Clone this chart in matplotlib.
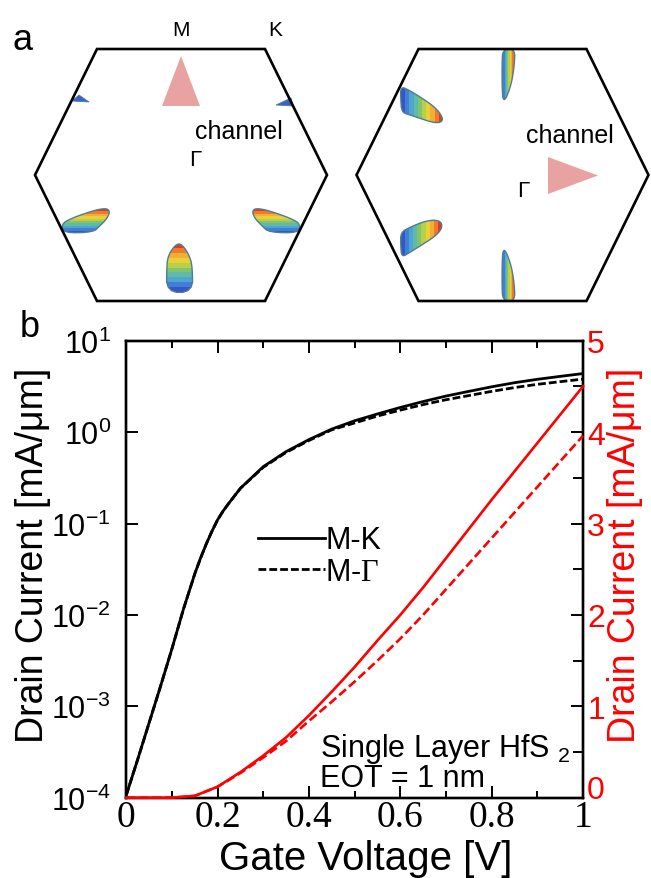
import numpy as np
import matplotlib
matplotlib.use("Agg")
import matplotlib.pyplot as plt
from matplotlib.colors import ListedColormap
from matplotlib.patches import Polygon
from matplotlib.ticker import FixedLocator, MultipleLocator, NullLocator, FixedFormatter

plt.rcParams["font.family"] = ["Liberation Sans", "DejaVu Sans"]
plt.rcParams["mathtext.fontset"] = "custom"
plt.rcParams["mathtext.rm"] = "Liberation Sans"
plt.rcParams["mathtext.it"] = "Liberation Sans:italic"
plt.rcParams["mathtext.bf"] = "Liberation Sans:bold"
plt.rcParams["mathtext.sf"] = "Liberation Serif"

# ---------------- transfer characteristics (panel b) ----------------
# log-scale drain current [mA/um] vs gate voltage [V]
vg_log = [0.0, 0.025, 0.05, 0.075, 0.10, 0.125, 0.15, 0.1625, 0.175, 0.1875,
          0.20, 0.2125, 0.225, 0.25, 0.30, 0.35, 0.40, 0.45, 0.50, 0.55, 0.60,
          0.65, 0.70, 0.75, 0.80, 0.85, 0.90, 0.95, 1.00]
id_mk_log = [1.07e-4, 2.63e-4, 6.61e-4, 1.66e-3, 4.27e-3, 1.15e-2, 2.82e-2,
             4.17e-2, 5.96e-2, 8.22e-2, 0.110, 0.138, 0.168, 0.243, 0.419,
             0.612, 0.828, 1.08, 1.33, 1.58, 1.86, 2.16, 2.48, 2.79, 3.13,
             3.47, 3.78, 4.07, 4.37]
id_mg_log = [1.07e-4, 2.63e-4, 6.61e-4, 1.66e-3, 4.27e-3, 1.15e-2, 2.82e-2,
             4.17e-2, 5.96e-2, 8.22e-2, 0.110, 0.138, 0.168, 0.243, 0.412,
             0.600, 0.810, 1.06, 1.26, 1.50, 1.74, 2.00, 2.26, 2.51, 2.79,
             3.07, 3.33, 3.56, 3.80]

# linear-scale drain current [mA/um] vs gate voltage [V]
vg_lin = [0.0, 0.05, 0.10, 0.15, 0.20, 0.25, 0.30, 0.35, 0.40, 0.45, 0.50,
          0.55, 0.60, 0.65, 0.70, 0.75, 0.80, 0.85, 0.90, 0.95, 1.00]
id_mk_lin = [0.0, 0.0, 0.0, 0.02, 0.12, 0.28, 0.46, 0.66, 0.90, 1.16, 1.43,
             1.72, 2.00, 2.30, 2.62, 2.94, 3.26, 3.57, 3.88, 4.19, 4.50]
id_mg_lin = [0.0, 0.0, 0.0, 0.02, 0.12, 0.27, 0.44, 0.62, 0.84, 1.05, 1.27,
             1.50, 1.74, 2.00, 2.28, 2.56, 2.84, 3.12, 3.40, 3.68, 3.96]

series_labels = ["M-K", r"M-$\mathsf{\Gamma}$"]
x_ticks = [0.0, 0.2, 0.4, 0.6, 0.8, 1.0]
x_tick_labels = ["0", "0.2", "0.4", "0.6", "0.8", "1"]
log_ticks = [1e-4, 1e-3, 1e-2, 1e-1, 1e0, 1e1]
log_tick_labels = [r"$10^{-4}$", r"$10^{-3}$", r"$10^{-2}$",
                   r"$10^{-1}$", r"$10^{0}$", r"$10^{1}$"]
lin_ticks = [0, 1, 2, 3, 4, 5]
lin_tick_labels = ["0", "1", "2", "3", "4", "5"]

RED = "#ff0000"
PINK = "#e9a2a2"
BANDS = ["#3456c8", "#3f7fd6", "#4fa4d0", "#5fbaa8", "#80c470",
         "#b8cf48", "#e8d03a", "#f4ae32", "#ef7a2a", "#e23a22"]
band_cmap = ListedColormap(BANDS)

W, H = 651, 879
fig = plt.figure(figsize=(W / 100, H / 100), dpi=100)

# ---------------- panel a: Brillouin-zone sketch (pixel units) ----------------
sk = fig.add_axes([0, 0, 1, 1])
sk.set_xlim(0, W)
sk.set_ylim(H, 0)
sk.axis("off")


def hexagon(cx, cy, hw=146, hh=126, top=84):
    return [(cx - top, cy - hh), (cx + top, cy - hh), (cx + hw, cy),
            (cx + top, cy + hh), (cx - top, cy + hh), (cx - hw, cy)]


def smooth(pts, n=2):
    p = np.asarray(pts, float)
    for _ in range(n):
        q = np.roll(p, -1, axis=0)
        a = 0.75 * p + 0.25 * q
        b = 0.25 * p + 0.75 * q
        p = np.empty((2 * len(a), 2))
        p[0::2] = a
        p[1::2] = b
    return p


def valley(cx, cy, rel, along="y", mirror_x=False, mirror_y=False):
    """Filled valley pocket with banded colouring, given offsets from the zone centre."""
    r = np.asarray(rel, float)
    if mirror_x:
        r[:, 0] = -r[:, 0]
    if mirror_y:
        r[:, 1] = -r[:, 1]
    pts = smooth(r + [cx, cy])
    x0, x1 = pts[:, 0].min(), pts[:, 0].max()
    y0, y1 = pts[:, 1].min(), pts[:, 1].max()
    poly = Polygon(pts, closed=True, facecolor="none", edgecolor="#4d7d95",
                   lw=1.0, zorder=4)
    sk.add_patch(poly)
    n = len(BANDS)
    if along == "y":
        arr = np.linspace(0, 1, n)[:, None]
        ext = (x0, x1, y1, y0)
    else:
        arr = np.linspace(0, 1, n)[None, :]
        ext = (x0, x1, y0, y1)
    im = sk.imshow(arr, cmap=band_cmap, extent=ext, origin="lower",
                   interpolation="nearest", aspect="auto", zorder=3)
    im.set_clip_path(poly)


for cx in (181, 502.5):
    sk.add_patch(Polygon(hexagon(cx, 176), closed=True, fill=False,
                         edgecolor="black", lw=1.9, joinstyle="miter", zorder=5))

# left zone: channel along M
LC = (181, 176)
bottom_pocket = [(-14.3, 117.3), (-14.3, 90.7), (-12.7, 80.7), (-7.7, 72.3),
                 (-2, 68), (3.3, 72.3), (8.3, 80.7), (11.3, 90.7), (11.7, 117.3)]
side_pocket = [(-119.3, 49), (-111, 44), (-97.7, 39), (-84.3, 34.7),
               (-74.3, 33.3), (-71, 36.7), (-74.3, 44), (-81, 50.7),
               (-87.7, 57.3), (-117.7, 58)]
valley(*LC, bottom_pocket, "y")
valley(*LC, side_pocket, "y")
valley(*LC, side_pocket, "y", mirror_x=True)
for wedge in ([(-109, -74), (-92, -73), (-102, -80)],
              [(95, -70), (112, -69), (110, -77)]):
    sk.add_patch(Polygon(np.asarray(wedge) + LC, closed=True,
                         facecolor="#3a62cc", edgecolor="#4d7d95", lw=0.6, zorder=4))
sk.add_patch(Polygon([(LC[0], 57), (LC[0] - 19, 107), (LC[0] + 19, 107)],
                     closed=True, facecolor=PINK, edgecolor="none", zorder=4))
sk.text(LC[0], 30, "M", ha="center", va="center", fontsize=15)
sk.text(275, 30, "K", ha="center", va="center", fontsize=15)
sk.text(239, 132, "channel", ha="center", va="center", fontsize=18)
sk.text(195, 161, "Γ", ha="center", va="center", fontsize=16)

# right zone: channel along K-direction
RC = (502.5, 176)
top_pocket = [(0.2, -126), (12.5, -126), (11.8, -109.3), (9.2, -92.7),
              (4.8, -79.3), (1.5, -74.3), (-0.2, -79.3), (-0.5, -109.3)]
upper_pocket = [(-101.8, -88.7), (-92.5, -84.3), (-79.2, -76), (-67.5, -67.7),
                (-60.8, -59.3), (-59.8, -54.3), (-64.2, -52), (-72.5, -53.3),
                (-82.5, -56.7), (-92.5, -60), (-100.8, -62.7), (-101.8, -76)]
lower_pocket = [(-101.8, 57.3), (-92.5, 52.3), (-79.2, 46.7), (-67.5, 44.7),
                (-60.8, 47.3), (-60.8, 54), (-67.5, 61.3), (-79.2, 69),
                (-92.5, 77.3), (-100.8, 82.3), (-101.8, 70.7)]
valley(*RC, top_pocket, "x")
valley(*RC, top_pocket, "x", mirror_y=True)
valley(*RC, upper_pocket, "x")
valley(*RC, lower_pocket, "x")
sk.add_patch(Polygon([(548, 158), (548, 195), (598, 176.5)], closed=True,
                     facecolor=PINK, edgecolor="none", zorder=4))
sk.text(569.5, 136, "channel", ha="center", va="center", fontsize=18)
sk.text(523, 192, "Γ", ha="center", va="center", fontsize=16)

sk.text(13, 50, "a", ha="left", va="baseline", fontsize=26)
sk.text(20, 337, "b", ha="left", va="baseline", fontsize=26)

# ---------------- panel b: transfer curves ----------------
ax = fig.add_axes([126.3 / W, 1 - 798.7 / H, 456.7 / W, 457.0 / H])
ax.set_yscale("log")
ax.set_xlim(0, 1)
ax.set_ylim(1e-4, 1e1)

l_mk, = ax.plot(vg_log, id_mk_log, color="black", lw=2.0)
l_mg, = ax.plot(vg_log, id_mg_log, color="black", lw=2.0,
                linestyle=(0, (2.8, 1.1)))

ax.xaxis.set_major_locator(FixedLocator(x_ticks))
ax.xaxis.set_major_formatter(FixedFormatter(x_tick_labels))
ax.xaxis.set_minor_locator(MultipleLocator(0.1))
ax.yaxis.set_major_locator(FixedLocator(log_ticks))
ax.yaxis.set_major_formatter(FixedFormatter(log_tick_labels))
ax.yaxis.set_minor_locator(NullLocator())

ax.tick_params(axis="both", which="both", direction="in", width=1.4,
               color="black")
ax.tick_params(axis="x", which="major", length=8.6, top=True, bottom=True,
               labelsize=27, pad=1, labelfontfamily="Liberation Serif")
ax.tick_params(axis="x", which="minor", length=5, top=True, bottom=True)
ax.tick_params(axis="y", which="major", length=8.6, right=False,
               labelsize=22, pad=11)
for sp in ax.spines.values():
    sp.set_linewidth(1.7)

ax2 = ax.twinx()
ax2.set_ylim(0, 5)
ax2.plot(vg_lin, id_mk_lin, color=RED, lw=1.9, clip_on=False, zorder=5)
ax2.plot(vg_lin, id_mg_lin, color=RED, lw=1.9, linestyle=(0, (3.4, 1.5)),
         clip_on=False, zorder=5)
ax2.yaxis.set_major_locator(FixedLocator(lin_ticks))
ax2.yaxis.set_major_formatter(FixedFormatter(lin_tick_labels))
ax2.yaxis.set_minor_locator(MultipleLocator(0.5))
ax2.tick_params(axis="y", which="both", direction="in", width=1.4,
                color="black", labelcolor=RED)
ax2.tick_params(axis="y", which="major", length=9, labelsize=23, pad=3)
ax2.tick_params(axis="y", which="minor", length=7)
for sp in ax2.spines.values():
    sp.set_linewidth(1.7)
# keep the lowest right-hand label clear of the x tick labels
ax2.get_yticklabels()[0].set_verticalalignment("baseline")

ax.legend([l_mk, l_mg], series_labels, loc="upper left",
          bbox_to_anchor=(0.288, 0.596), frameon=False, fontsize=22,
          handlelength=2.2, handletextpad=0.0, borderpad=0, borderaxespad=0,
          labelspacing=0.05)

ax.text(0.424, 0.0912, "Single Layer HfS $_{2}$", transform=ax.transAxes,
        ha="left", va="baseline", fontsize=22)
ax.text(0.424, 0.0258, "EOT = 1 nm", transform=ax.transAxes,
        ha="left", va="baseline", fontsize=22)

ax.text(0.525, -0.156, "Gate Voltage [V]", transform=ax.transAxes,
        ha="center", va="baseline", fontsize=29)
ax.text(-0.204, 0.533, "Drain Current [mA/\u03bcm]", transform=ax.transAxes,
        ha="center", va="center", rotation=90, fontsize=27)
ax.text(1.092, 0.533, "Drain Current [mA/\u03bcm]", transform=ax.transAxes,
        ha="center", va="center", rotation=90, fontsize=27, color=RED)

fig.savefig("out.png", dpi=100)
